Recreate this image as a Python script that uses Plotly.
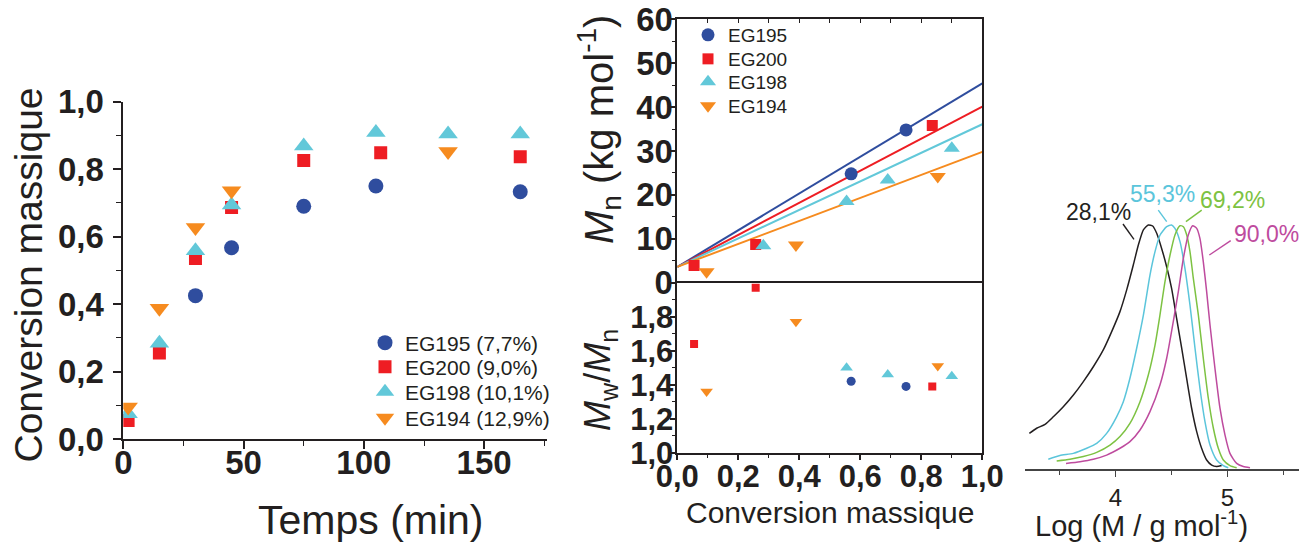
import plotly.graph_objects as go

# ---------------- data ----------------
# Panel 1: mass conversion vs time
time_EG195 = [30, 45, 75, 105, 165]
conv_EG195 = [0.425, 0.567, 0.690, 0.750, 0.733]
time_EG200 = [2, 15, 30, 45, 75, 107, 165]
conv_EG200 = [0.055, 0.255, 0.535, 0.686, 0.826, 0.849, 0.837]
time_EG198 = [2, 15, 30, 45, 75, 105, 135, 165]
conv_EG198 = [0.075, 0.284, 0.558, 0.694, 0.869, 0.909, 0.904, 0.904]
time_EG194 = [2, 15, 30, 45, 135]
conv_EG194 = [0.095, 0.388, 0.627, 0.736, 0.852]

# Panel 2 (top): Mn vs conversion
mnx_EG195 = [0.57, 0.75]
mn_EG195 = [24.8, 34.8]
mnx_EG200 = [0.055, 0.257, 0.836]
mn_EG200 = [3.9, 8.7, 35.8]
mnx_EG198 = [0.282, 0.555, 0.69, 0.90]
mn_EG198 = [8.4, 18.5, 23.4, 30.6]
mnx_EG194 = [0.096, 0.389, 0.854]
mn_EG194 = [2.5, 8.6, 24.2]

# theoretical lines
fit_x = [0.0, 1.0]
fit_EG195 = [3.6, 45.4]
fit_EG200 = [3.6, 40.1]
fit_EG198 = [3.6, 36.1]
fit_EG194 = [3.6, 29.8]

# Panel 2 (bottom): dispersity vs conversion
pdx_EG195 = [0.57, 0.75]
pd_EG195 = [1.42, 1.39]
pdx_EG200 = [0.055, 0.257, 0.836]
pd_EG200 = [1.64, 1.97, 1.39]
pdx_EG198 = [0.555, 0.69, 0.90]
pd_EG198 = [1.50, 1.46, 1.45]
pdx_EG194 = [0.096, 0.389, 0.854]
pd_EG194 = [1.36, 1.77, 1.51]

# Panel 3: SEC traces (normalised)
logM_281 = [3.231, 3.296, 3.371, 3.445, 3.534, 3.624, 3.713, 3.802, 3.891, 3.966, 4.040, 4.100,
            4.159, 4.204, 4.249, 4.293, 4.332, 4.368, 4.412, 4.457, 4.501, 4.546, 4.591, 4.635,
            4.680, 4.725, 4.769, 4.814, 4.859, 4.903, 4.948]
w_281 = [0.146, 0.167, 0.183, 0.214, 0.255, 0.303, 0.358, 0.419, 0.488, 0.563, 0.645, 0.734,
         0.836, 0.918, 0.980, 1.000, 0.996, 0.966, 0.904, 0.829, 0.740, 0.617, 0.495, 0.372,
         0.249, 0.153, 0.085, 0.037, 0.016, 0.010, 0.014]
logM_553 = [3.400, 3.504, 3.623, 3.743, 3.832, 3.921, 4.010, 4.070, 4.129, 4.189, 4.249, 4.308,
            4.353, 4.398, 4.457, 4.501, 4.531, 4.576, 4.620, 4.665, 4.710, 4.754, 4.799, 4.844,
            4.903, 4.963, 5.007]
w_553 = [0.040, 0.055, 0.064, 0.085, 0.105, 0.146, 0.214, 0.276, 0.372, 0.495, 0.631, 0.795,
         0.891, 0.959, 0.993, 1.000, 0.986, 0.932, 0.822, 0.672, 0.495, 0.331, 0.194, 0.098,
         0.037, 0.014, 0.005]
logM_692 = [3.475, 3.594, 3.713, 3.832, 3.951, 4.040, 4.129, 4.219, 4.293, 4.353, 4.397, 4.442,
            4.487, 4.531, 4.576, 4.606, 4.636, 4.665, 4.695, 4.740, 4.784, 4.829, 4.874, 4.918,
            4.963, 5.022, 5.082]
w_692 = [0.033, 0.040, 0.051, 0.068, 0.098, 0.133, 0.187, 0.276, 0.385, 0.508, 0.631, 0.768,
         0.877, 0.959, 0.997, 0.993, 0.959, 0.891, 0.781, 0.631, 0.454, 0.290, 0.167, 0.085,
         0.037, 0.014, 0.005]
logM_900 = [3.558, 3.683, 3.802, 3.921, 4.040, 4.129, 4.219, 4.308, 4.397, 4.457, 4.516, 4.561,
            4.606, 4.650, 4.689, 4.725, 4.754, 4.784, 4.814, 4.844, 4.888, 4.933, 4.978, 5.022,
            5.082, 5.141, 5.201]
w_900 = [0.023, 0.030, 0.040, 0.057, 0.085, 0.112, 0.160, 0.235, 0.344, 0.454, 0.604, 0.727,
         0.863, 0.959, 0.997, 0.986, 0.945, 0.850, 0.727, 0.590, 0.413, 0.249, 0.139, 0.064,
         0.023, 0.010, 0.005]

# tick labels
conv_ticks = [0.0, 0.2, 0.4, 0.6, 0.8, 1.0]
conv_ticktext = ["0,0", "0,2", "0,4", "0,6", "0,8", "1,0"]
time_ticks = [0, 50, 100, 150]
time_ticktext = ["0", "50", "100", "150"]
mn_ticks = [0, 10, 20, 30, 40, 50, 60]
mn_ticktext = ["0", "10", "20", "30", "40", "50", "60"]
pd_ticks = [1.0, 1.2, 1.4, 1.6, 1.8]
pd_ticktext = ["1,0", "1,2", "1,4", "1,6", "1,8"]
logm_ticks = [4, 5]
logm_ticktext = ["4", "5"]

names_left = ["EG195 (7,7%)", "EG200 (9,0%)", "EG198 (10,1%)", "EG194 (12,9%)"]
names_mid = ["EG195", "EG200", "EG198", "EG194"]
sec_labels = ["28,1%", "55,3%", "69,2%", "90,0%"]

# ---------------- styling ----------------
# the page body keeps its default 8 px margin, so the figure is drawn 8 px in
OFF = 8
W, H = 1307 - OFF, 542 - OFF
F = "Liberation Sans, Arial, sans-serif"
INK = "#231F20"
BLUE, RED, CYAN, ORANGE = "#2F4D9E", "#EE1D23", "#62C8D9", "#F68B1F"
C_BLACK, C_CYAN, C_GREEN, C_MAG = "#231F20", "#5BC5DB", "#7DC242", "#BE4B9E"
symbols = ["circle", "square", "triangle-up", "triangle-down"]
colors = [BLUE, RED, CYAN, ORANGE]


def px(x):
    return (x - OFF) / W


def py(y):
    return 1 - (y - OFF) / H


fig = go.Figure()

# one legend per entry so each row sits where the reference has it
left_legends = ["legend", "legend2", "legend3", "legend4"]
mid_legends = ["legend5", "legend6", "legend7", "legend8"]
left_leg_rows = [343, 367, 392, 418]
mid_leg_rows = [35, 59, 82, 106]

# Panel 1
left_sets = [(time_EG195, conv_EG195), (time_EG200, conv_EG200),
             (time_EG198, conv_EG198), (time_EG194, conv_EG194)]
left_sizes = [15, 13, 17, 17]
for (xs, ys), nm, sym, col, sz, lg in zip(left_sets, names_left, symbols, colors, left_sizes, left_legends):
    fig.add_trace(go.Scatter(x=xs, y=ys, mode="markers", name=nm, legend=lg,
                             marker=dict(symbol=sym, color=col, size=sz, line=dict(width=0)),
                             xaxis="x", yaxis="y"))

# Panel 2 top: lines first
for ys, col in zip([fit_EG195, fit_EG200, fit_EG198, fit_EG194], colors):
    fig.add_trace(go.Scatter(x=fit_x, y=ys, mode="lines", showlegend=False,
                             line=dict(color=col, width=2), xaxis="x2", yaxis="y2"))
mid_sets = [(mnx_EG195, mn_EG195), (mnx_EG200, mn_EG200),
            (mnx_EG198, mn_EG198), (mnx_EG194, mn_EG194)]
mid_sizes = [13, 11, 14, 14]
for (xs, ys), nm, sym, col, sz, lg in zip(mid_sets, names_mid, symbols, colors, mid_sizes, mid_legends):
    fig.add_trace(go.Scatter(x=xs, y=ys, mode="markers", name=nm, legend=lg,
                             marker=dict(symbol=sym, color=col, size=sz, line=dict(width=0)),
                             xaxis="x2", yaxis="y2"))

# Panel 2 bottom
pd_sets = [(pdx_EG195, pd_EG195), (pdx_EG200, pd_EG200),
           (pdx_EG198, pd_EG198), (pdx_EG194, pd_EG194)]
pd_sizes = [9, 8, 11, 11]
for (xs, ys), sym, col, sz in zip(pd_sets, symbols, colors, pd_sizes):
    fig.add_trace(go.Scatter(x=xs, y=ys, mode="markers", showlegend=False,
                             marker=dict(symbol=sym, color=col, size=sz, line=dict(width=0)),
                             xaxis="x3", yaxis="y3"))

# Panel 3
for xs, ys, col in zip([logM_281, logM_553, logM_692, logM_900],
                       [w_281, w_553, w_692, w_900],
                       [C_BLACK, C_CYAN, C_GREEN, C_MAG]):
    fig.add_trace(go.Scatter(x=xs, y=ys, mode="lines", showlegend=False,
                             line=dict(color=col, width=1.5, shape="spline", smoothing=0.6),
                             xaxis="x4", yaxis="y4"))

bold_tick = dict(family=F, size=33, color=INK, weight="bold")
bold_tick_mid = dict(family=F, size=31, color=INK, weight="bold")

fig.update_layout(
    template="none",
    width=W, height=H,
    margin=dict(l=0, r=0, t=0, b=0, autoexpand=False),
    paper_bgcolor="white", plot_bgcolor="rgba(0,0,0,0)",
    font=dict(family=F, color=INK),
    # Panel 1 axes
    xaxis=dict(domain=[px(123.3), px(546.7)], range=[0, 176], anchor="y", automargin=False,
               showline=True, linecolor=INK, linewidth=1.8, showgrid=False, zeroline=False,
               ticks="outside", ticklen=8, tickwidth=1.5, tickcolor=INK, ticklabelstandoff=-15,
               ticklabeloverflow="allow",
               tickmode="array", tickvals=time_ticks, ticktext=time_ticktext, tickfont=bold_tick,
               minor=dict(tickmode="array", tickvals=[25, 75, 125, 175], ticks="outside",
                          ticklen=5, tickwidth=1.2, tickcolor=INK, showgrid=False)),
    yaxis=dict(domain=[py(439), py(101.7)], range=[0, 1.0], anchor="x", automargin=False,
               showline=True, linecolor=INK, linewidth=1.8, showgrid=False, zeroline=False,
               ticks="outside", ticklen=8, tickwidth=1.5, tickcolor=INK, ticklabelstandoff=3,
               ticklabeloverflow="allow",
               tickmode="array", tickvals=conv_ticks, ticktext=conv_ticktext, tickfont=bold_tick,
               minor=dict(tickmode="array", tickvals=[0.1, 0.3, 0.5, 0.7, 0.9], ticks="outside",
                          ticklen=5, tickwidth=1.2, tickcolor=INK, showgrid=False)),
    # Panel 2 top
    xaxis2=dict(domain=[px(677.3), px(982.3)], range=[0, 1.0], anchor="y2", side="top",
                automargin=False,
                showline=True, linecolor=INK, linewidth=1.5, showgrid=False, zeroline=False,
                ticks="inside", ticklen=4, tickwidth=1, tickcolor=INK, dtick=0.1, tick0=0,
                showticklabels=False),
    yaxis2=dict(domain=[py(282.7), py(19.3)], range=[0, 60], anchor="x2", automargin=False,
                showline=True, mirror=True, linecolor=INK, linewidth=1.5, showgrid=False,
                zeroline=False, ticks="outside", ticklen=6, tickwidth=1.5, tickcolor=INK,
                ticklabelstandoff=-10, ticklabeloverflow="allow",
                tickmode="array", tickvals=mn_ticks, ticktext=mn_ticktext, tickfont=bold_tick,
                minor=dict(tickmode="array", tickvals=[5, 15, 25, 35, 45, 55], ticks="outside",
                           ticklen=4, tickwidth=1, tickcolor=INK, showgrid=False)),
    # Panel 2 bottom
    xaxis3=dict(domain=[px(677.3), px(982.3)], range=[0, 1.0], anchor="y3", automargin=False,
                showline=True, mirror=True, linecolor=INK, linewidth=1.5, showgrid=False,
                zeroline=False, ticks="outside", ticklen=6, tickwidth=1.5, tickcolor=INK,
                ticklabelstandoff=-11, ticklabeloverflow="allow",
                tickmode="array", tickvals=conv_ticks, ticktext=conv_ticktext, tickfont=bold_tick_mid,
                minor=dict(tickmode="array", tickvals=[0.1, 0.3, 0.5, 0.7, 0.9], ticks="outside",
                           ticklen=4, tickwidth=1, tickcolor=INK, showgrid=False)),
    yaxis3=dict(domain=[py(452.7), py(282.7)], range=[1.0, 2.0], anchor="x3", automargin=False,
                showline=True, mirror=True, linecolor=INK, linewidth=1.5, showgrid=False,
                zeroline=False, ticks="outside", ticklen=6, tickwidth=1.5, tickcolor=INK,
                ticklabelstandoff=-10, ticklabeloverflow="allow",
                tickmode="array", tickvals=pd_ticks, ticktext=pd_ticktext, tickfont=bold_tick_mid,
                minor=dict(tickmode="array", tickvals=[1.1, 1.3, 1.5, 1.7, 1.9], ticks="outside",
                           ticklen=4, tickwidth=1, tickcolor=INK, showgrid=False)),
    # Panel 3
    xaxis4=dict(domain=[px(1025), 1.0], range=[3.192, 5.71], anchor="y4", automargin=False,
                showline=True, linecolor="#444444", linewidth=1.5, showgrid=False, zeroline=False,
                ticks="outside", ticklen=6, tickwidth=1.2, tickcolor="#444444",
                ticklabeloverflow="allow",
                tickmode="array", tickvals=logm_ticks, ticktext=logm_ticktext,
                tickfont=dict(family=F, size=24, color=INK),
                minor=dict(tickmode="array", tickvals=[3.5, 4.5, 5.5], ticks="outside",
                           ticklen=4, tickwidth=1, tickcolor="#444444", showgrid=False)),
    yaxis4=dict(domain=[py(469), py(176.2)], range=[0, 1.2], anchor="x4", visible=False,
                automargin=False),
)

leg_common = dict(xanchor="left", yanchor="middle", bgcolor="rgba(0,0,0,0)",
                  borderwidth=0, itemwidth=30)
leg_layout = {}
for lg, row in zip(left_legends, left_leg_rows):
    leg_layout[lg] = dict(x=px(365), y=py(row), font=dict(family=F, size=21, color=INK),
                          **leg_common)
for lg, row in zip(mid_legends, mid_leg_rows):
    leg_layout[lg] = dict(x=px(688), y=py(row), font=dict(family=F, size=19, color=INK),
                          **leg_common)
fig.update_layout(**leg_layout)

annotations = [
    dict(text="Conversion massique", x=px(28), y=py(275.5), textangle=-90,
         font=dict(family=F, size=39, color=INK)),
    dict(text="Temps (min)", x=px(371), y=py(520), font=dict(family=F, size=41, color=INK)),
    dict(text="<i>M</i><sub>n</sub> (kg mol<sup>-1</sup>)", x=px(599), y=py(130), textangle=-90,
         font=dict(family=F, size=40, color=INK)),
    dict(text="<i>M</i><sub>w</sub>/<i>M</i><sub>n</sub>", x=px(600), y=py(380), textangle=-90,
         font=dict(family=F, size=36, color=INK)),
    dict(text="Conversion massique", x=px(830), y=py(512), font=dict(family=F, size=30, color=INK)),
    dict(text="Log (M / g mol<sup>-1</sup>)", x=px(1141), y=py(524),
         font=dict(family=F, size=29, color=INK)),
]
for a in annotations:
    a.update(xref="paper", yref="paper", xanchor="center", yanchor="middle", showarrow=False)

sec_text_pos = [(3.844, 1.053), (4.424, 1.127), (5.049, 1.102), (5.344, 0.963)]
sec_leaders = [((4.067, 1.004), (4.165, 0.941)), ((4.382, 1.061), (4.457, 1.014)),
               ((4.770, 1.061), (4.629, 1.014)), ((5.029, 0.936), (4.838, 0.877))]
sec_cols = [C_BLACK, C_CYAN, C_GREEN, C_MAG]
for lab, (tx, ty), col in zip(sec_labels, sec_text_pos, sec_cols):
    annotations.append(dict(text=lab, x=tx, y=ty, xref="x4", yref="y4", showarrow=False,
                            xanchor="center", yanchor="middle",
                            font=dict(family=F, size=23, color=col)))
shapes = []
for ((x0, y0), (x1, y1)), col in zip(sec_leaders, sec_cols):
    shapes.append(dict(type="line", x0=x0, y0=y0, x1=x1, y1=y1, xref="x4", yref="y4",
                       line=dict(color=col, width=1.4)))
fig.update_layout(annotations=annotations, shapes=shapes)

fig.write_html("out.html")
